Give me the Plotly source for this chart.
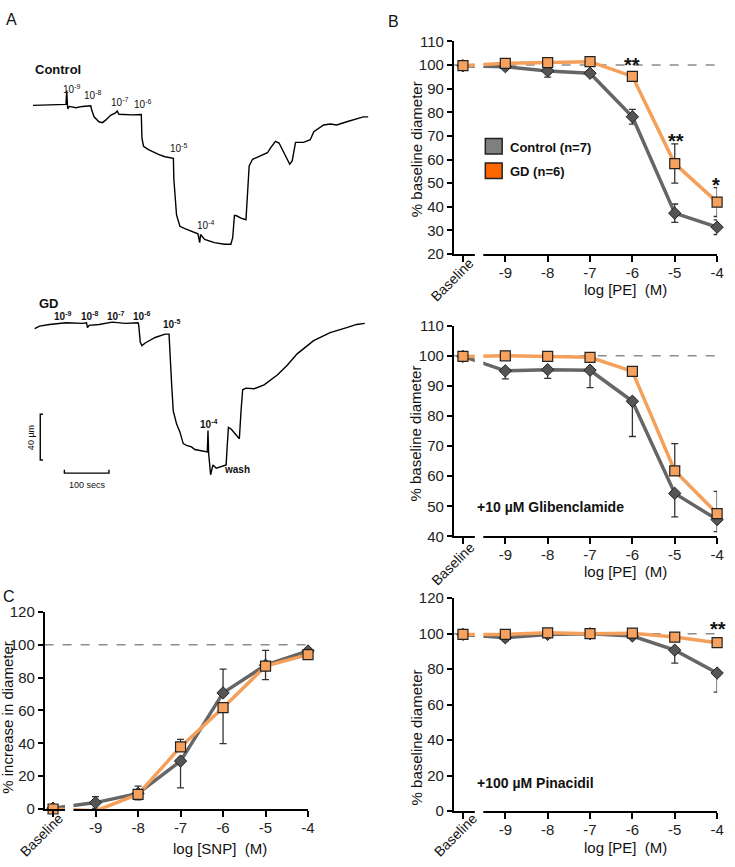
import plotly.graph_objects as go

W, H = 735, 867
FONT = "Liberation Sans, Arial, sans-serif"

# ---- panel A: raw diameter tracings (time in s, diameter in um) ----
ctrl_t = [0, 37, 74, 75.6, 77.8, 81.5, 96.3, 111, 129.6, 131.9, 137, 148, 155.6, 163,
          174, 185, 189, 192.6, 222, 243, 244.4, 248, 259, 281.5, 296, 315, 316, 322,
          326, 329.6, 340.7, 355.6, 370, 374, 376, 385, 407, 429.6, 444, 448, 452,
          455.6, 466.7, 477.8, 479, 485, 492.6, 511, 526, 533, 544, 552, 563, 576,
          581.5, 589, 607, 622, 630, 652, 667, 681.5, 704, 726, 741, 752]
ctrl_d = [200, 200.3, 200.9, 212.9, 197.1, 199.1, 198, 199.1, 199.7, 195.7, 190, 185.7,
          184.9, 187.1, 191.4, 193.4, 195.1, 192.3, 191.7, 192, 171.4, 164.3, 161.4,
          157.1, 155.1, 153.7, 135.7, 104.3, 98.6, 94.3, 92.3, 90, 87.7, 80, 87.1,
          82.9, 80, 78.6, 78.6, 84.3, 103.7, 103.7, 101.4, 100, 107.1, 147.1, 152.9,
          156.3, 158.6, 162.9, 168.6, 167.1, 158.6, 148.6, 151.4, 167.7, 167.7, 170,
          177.1, 182.9, 183.7, 182.9, 185.7, 188.6, 190, 190]

gd_t = [0, 11.1, 33.3, 70.4, 107.4, 116.3, 118.5, 122.2, 144.4, 174, 203.7, 231.9,
        233.3, 237, 240.7, 248, 270.4, 292.6, 301.5, 303.7, 307.4, 311, 318.5, 326,
        333.3, 340.7, 351.9, 359.3, 366.7, 377.8, 387.4, 388.9, 390.4, 394.8, 400,
        407.4, 418.5, 429.6, 431.9, 434.8, 440.7, 451.9, 459.3, 463, 466.7, 474,
        492.6, 514.8, 544.4, 566.7, 588.9, 625.9, 663, 700, 722.2, 740.7]
gd_d = [195.4, 197.7, 199.1, 200.6, 200, 200.6, 196.3, 198.3, 199.1, 201.1, 200,
        200.6, 199.1, 183.4, 180.6, 182.9, 187.7, 190.6, 190.6, 177.7, 146.3, 123.4,
        112, 104.9, 94.9, 93.4, 92, 89.7, 89.1, 88.6, 87.7, 106.3, 86.3, 67.7, 76.3,
        73.4, 74.9, 76.3, 92, 109.1, 107.7, 102, 99.1, 123.4, 142, 143.4, 142.9,
        146.3, 154.9, 163.4, 173.4, 184.9, 192, 196.3, 199.1, 200]

scale_t = 100   # s
scale_d = 40    # um

# ---- dose-response data ----
conc_x = [-10, -9, -8, -7, -6, -5, -4]
conc_ticks = ["", "-9", "-8", "-7", "-6", "-5", "-4"]

# B top: PE
pe_ctrl = [99.7, 99.3, 97.5, 96.5, 78.1, 37.3, 31.4]
pe_ctrl_up = [0, 0.8, 2.6, 0.8, 3.1, 3.9, 3.1]
pe_ctrl_dn = [0, 0.8, 2.6, 0.8, 3.1, 3.9, 3.1]
pe_gd = [99.7, 100.7, 101.0, 101.4, 95.2, 58.3, 42.0]
pe_gd_up = [0, 0.6, 0.6, 0.6, 1.6, 8.3, 6.1]
pe_gd_dn = [0, 0.6, 0.6, 0.6, 1.6, 8.3, 6.1]

# B middle: PE + glibenclamide
gli_ctrl = [99.8, 95.0, 95.4, 95.2, 84.9, 54.3, 45.6]
gli_ctrl_up = [0, 0, 0, 0, 0, 0, 0]
gli_ctrl_dn = [0, 2.7, 2.9, 5.8, 11.7, 7.8, 4.0]
gli_gd = [99.8, 100.0, 99.8, 99.5, 94.8, 61.8, 47.6]
gli_gd_up = [0, 0, 0, 0, 0, 9.0, 7.4]
gli_gd_dn = [0, 0, 0, 0, 0, 0, 0]

# B bottom: PE + pinacidil
pin_ctrl = [99.6, 97.7, 99.6, 100.0, 98.7, 90.7, 77.8]
pin_ctrl_up = [0, 0, 0, 0, 0, 0, 0]
pin_ctrl_dn = [0, 1.8, 0.8, 0.5, 1.5, 7.3, 10.8]
pin_gd = [99.6, 99.6, 100.5, 100.0, 100.3, 98.1, 94.9]
pin_gd_up = [0, 0, 0, 0, 0, 0, 0]
pin_gd_dn = [0, 0, 0, 0, 0, 0, 0]

# C: SNP
snp_ctrl = [0.5, 3.9, 9.5, 29.2, 70.7, 87.6, 96.2]
snp_ctrl_up = [0, 3.6, 4.4, 0, 14.5, 9.0, 1.0]
snp_ctrl_dn = [0, 3.6, 4.0, 16.3, 0, 0, 1.0]
snp_gd = [0, -1.1, 8.9, 37.8, 61.7, 87.0, 94.0]
snp_gd_up = [0, 0, 0, 4.6, 0, 0, 0]
snp_gd_dn = [0, 0, 0, 0, 21.9, 8.2, 0]

GRAY_LINE = "#666666"
GRAY_MARK = "#555555"
ORANGE_LINE = "#F5A05A"
ORANGE_MARK = "#F6A25E"


def px(x, y):
    return x / W, 1 - y / H


def dom_x(a, b):
    return [a / W, b / W]


def dom_y(top, bottom):
    return [1 - bottom / H, 1 - top / H]


fig = go.Figure()

# panel A traces
fig.add_trace(go.Scatter(x=ctrl_t, y=ctrl_d, mode="lines", xaxis="x", yaxis="y",
                         line=dict(color="black", width=1.4), showlegend=False))
fig.add_trace(go.Scatter(x=gd_t, y=gd_d, mode="lines", xaxis="x2", yaxis="y2",
                         line=dict(color="black", width=1.4), showlegend=False))
# scale bars
t0, d0 = 12.6, 80.6
fig.add_trace(go.Scatter(x=[t0 + 6, t0, t0, t0 + 6], y=[d0 + scale_d, d0 + scale_d, d0, d0],
                         mode="lines", xaxis="x2", yaxis="y2",
                         line=dict(color="black", width=1.4), showlegend=False))
t1, d1 = 66.7, 69.1
fig.add_trace(go.Scatter(x=[t1, t1, t1 + scale_t, t1 + scale_t], y=[d1 + 3, d1, d1, d1 + 3],
                         mode="lines", xaxis="x2", yaxis="y2",
                         line=dict(color="black", width=1.4), showlegend=False))


def add_dose(n, ctrl, cu, cd, gd, gu, gdn):
    xa, ya = "x%d" % n, "y%d" % n
    fig.add_trace(go.Scatter(
        x=conc_x, y=ctrl, mode="lines+markers", xaxis=xa, yaxis=ya, showlegend=False,
        cliponaxis=False,
        line=dict(color=GRAY_LINE, width=3.5),
        marker=dict(symbol="diamond", size=9.5, color=GRAY_MARK, line=dict(color="#222", width=1)),
        error_y=dict(type="data", symmetric=False, array=cu, arrayminus=cd,
                     color="#333", thickness=1.3, width=3.5)))
    fig.add_trace(go.Scatter(
        x=conc_x, y=gd, mode="lines+markers", xaxis=xa, yaxis=ya, showlegend=False,
        cliponaxis=False,
        line=dict(color=ORANGE_LINE, width=3.5),
        marker=dict(symbol="square", size=10, color=ORANGE_MARK, line=dict(color="#222", width=1.2)),
        error_y=dict(type="data", symmetric=False, array=gu, arrayminus=gdn,
                     color="#333", thickness=1.3, width=3.5)))


add_dose(3, pe_ctrl, pe_ctrl_up, pe_ctrl_dn, pe_gd, pe_gd_up, pe_gd_dn)
add_dose(4, gli_ctrl, gli_ctrl_up, gli_ctrl_dn, gli_gd, gli_gd_up, gli_gd_dn)
add_dose(5, pin_ctrl, pin_ctrl_up, pin_ctrl_dn, pin_gd, pin_gd_up, pin_gd_dn)
add_dose(6, snp_ctrl, snp_ctrl_up, snp_ctrl_dn, snp_gd, snp_gd_up, snp_gd_dn)

hidden = dict(visible=False, showgrid=False, zeroline=False)


def x_dose(dom, anchor, rng):
    return dict(domain=dom, anchor=anchor, range=rng, tickmode="array", tickvals=conc_x,
                ticktext=conc_ticks, showline=True, linecolor="black", linewidth=1.5,
                ticks="outside", ticklen=6, tickwidth=1.5, tickcolor="black",
                ticklabelstandoff=-2,
                showgrid=False, zeroline=False, tickfont=dict(size=15, color="#222"))


def y_dose(dom, anchor, rng, dtick):
    return dict(domain=dom, anchor=anchor, range=rng, dtick=dtick, tick0=0,
                showline=True, linecolor="black", linewidth=1.5,
                ticks="outside", ticklen=5, tickwidth=1.5, tickcolor="black",
                showgrid=False, zeroline=False, tickfont=dict(size=15, color="#222"))


bx = dom_x(458, 724)
fig.update_layout(
    width=W, height=H, margin=dict(l=0, r=0, t=0, b=0),
    paper_bgcolor="white", plot_bgcolor="rgba(0,0,0,0)",
    font=dict(family=FONT, color="#222"),
    xaxis=dict(domain=dom_x(20, 380), range=[-29.6, 770.4], anchor="y", **hidden),
    yaxis=dict(domain=dom_y(40, 250), range=[70, 250], anchor="x", **hidden),
    xaxis2=dict(domain=dom_x(20, 380), range=[-33.3, 766.7], anchor="y2", **hidden),
    yaxis2=dict(domain=dom_y(280, 500), range=[46.3, 234.9], anchor="x2", **hidden),
    xaxis3=x_dose(bx, "y3", [-10.22, -4]),
    yaxis3=y_dose(dom_y(33, 250), "x3", [20, 110], 10),
    xaxis4=x_dose(bx, "y4", [-10.22, -4]),
    yaxis4=y_dose(dom_y(323, 538), "x4", [40, 110], 10),
    xaxis5=x_dose(bx, "y5", [-10.22, -4]),
    yaxis5=y_dose(dom_y(601, 818), "x5", [0, 120], 20),
    xaxis6=x_dose(dom_x(45, 311), "y6", [-10.2, -4]),
    yaxis6=y_dose(dom_y(615, 816), "x6", [0, 120], 20),
)

shapes = []
# dashed 100% reference lines
for n, x0, x1 in [(3, -10.22, -3.7), (4, -10.22, -3.9), (5, -10.22, -3.9), (6, -10.2, -4)]:
    shapes.append(dict(type="line", xref="x%d" % n, yref="y%d" % n, x0=x0, x1=x1, y0=100, y1=100,
                       line=dict(color="#8c8c8c", width=1.5, dash="dash"), layer="below"))
# axis breaks between Baseline and -9
for n, top in [(3, 1), (4, 1), (5, 1), (6, 0.12)]:
    shapes.append(dict(type="rect", xref="x%d" % n, yref="y%d domain" % n,
                       x0=-9.72, x1=-9.52, y0=-0.04, y1=top,
                       fillcolor="white", line=dict(width=0), layer="above"))
# legend boxes
for (y0, y1), col in [((132, 148), "#808080"), ((157, 173), "#FF6600")]:
    a = px(490, y0)
    b = px(507, y1)
    shapes.append(dict(type="rect", xref="paper", yref="paper", x0=a[0], x1=b[0], y0=b[1], y1=a[1],
                       fillcolor=col, line=dict(color="#222", width=1.5)))
fig.update_layout(shapes=shapes)

anns = []


def ann(text, x, y, size=13, bold=False, angle=0, xanchor="center", yanchor="middle"):
    xp, yp = px(x, y)
    if bold:
        text = "<b>" + text + "</b>"
    anns.append(dict(text=text, x=xp, y=yp, xref="paper", yref="paper", showarrow=False,
                     font=dict(size=size, family=FONT, color="#111"), textangle=angle,
                     xanchor=xanchor, yanchor=yanchor))


# panel letters
ann("A", 12, 11, size=16)
ann("B", 397, 13, size=16)
ann("C", 9, 599, size=16)

# panel A labels
ann("Control", 33, 62, size=13, bold=True, xanchor="left")
for lab, x, y in [("-9", 72, 82), ("-8", 93, 88), ("-7", 121, 95), ("-6", 144, 97),
                  ("-5", 180, 142), ("-4", 207, 220)]:
    ann("10<sup>%s</sup>" % lab, x, y, size=10)
ann("GD", 37, 300, size=13, bold=True, xanchor="left")
for lab, x, y in [("-9", 63, 313), ("-8", 90, 313), ("-7", 117, 313), ("-6", 143, 313),
                  ("-5", 173, 321), ("-4", 211, 423)]:
    ann("10<sup>%s</sup>" % lab, x, y, size=10, bold=True)
ann("wash", 239, 470, size=10, bold=True)
ann("40 \u00b5m", 32, 437, size=9, angle=-90)
ann("100 secs", 88, 486, size=9)

# Baseline tick labels
for x, y in [(456, 276), (457, 566), (460, 843), (42, 843)]:
    ann("Baseline", x, y, size=14, angle=-45)

# axis titles
ann("log [PE]  (M)", 632, 286, size=15)
ann("log [PE]  (M)", 632, 574, size=15)
ann("log [PE]  (M)", 632, 855, size=15)
ann("log [SNP]  (M)", 222, 856, size=15)
ann("% baseline diameter", 420, 143, size=15, angle=-90)
ann("% baseline diameter", 420, 433, size=15, angle=-90)
ann("% baseline diameter", 420, 743, size=15, angle=-90)
ann("% increase in diameter", 8, 722, size=15, angle=-90)

# legend and stars
ann("Control (n=7)", 513, 141, size=13, bold=True, xanchor="left")
ann("GD (n=6)", 513, 166, size=13, bold=True, xanchor="left")
ann("**", 638, 57, size=20, bold=True)
ann("**", 682, 135, size=20, bold=True)
ann("*", 723, 180, size=20, bold=True)
ann("**", 725, 632, size=20, bold=True)

ann("+10 \u00b5M Glibenclamide", 480, 508, size=14, bold=True, xanchor="left")
ann("+100 \u00b5M Pinacidil", 480, 789, size=14, bold=True, xanchor="left")

fig.update_layout(annotations=anns)

# page margin removed so the 735x867 figure fills the window exactly
fig.write_html("out.html", config={"displayModeBar": False},
               post_script="document.body.style.margin='0';"
                           "document.body.style.overflow='hidden';")
